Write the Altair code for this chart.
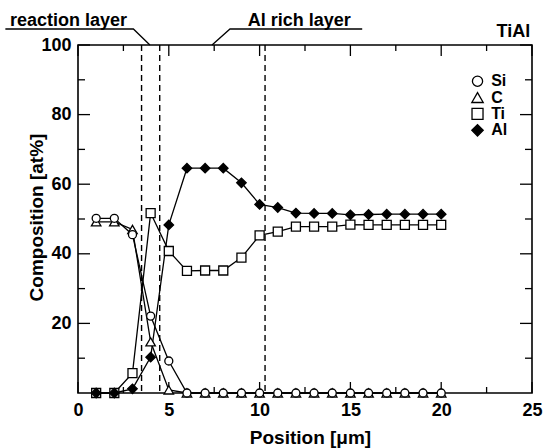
import altair as alt
import pandas as pd

# ---- data ----
positions = [1, 2, 3, 4, 5, 6, 7, 8, 9, 10, 11, 12, 13, 14, 15, 16, 17, 18, 19, 20]
si = [50.2, 50.2, 45.5, 22.1, 9.2, 0, 0, 0, 0, 0, 0, 0, 0, 0, 0, 0, 0, 0, 0, 0]
c = [49.2, 49.2, 47.0, 14.7, 0.9, 0, 0, 0, 0, 0, 0, 0, 0, 0, 0, 0, 0, 0, 0, 0]
ti = [0, 0, 5.7, 51.7, 40.8, 35.1, 35.2, 35.2, 38.9, 45.3, 46.4, 47.8, 47.8, 47.8, 48.4, 48.3, 48.3, 48.3, 48.3, 48.3]
al = [0, 0, 1.2, 10.3, 48.3, 64.6, 64.6, 64.6, 60.4, 54.2, 53.3, 51.7, 51.6, 51.6, 51.2, 51.3, 51.4, 51.4, 51.4, 51.4]

series_names = ["Si", "C", "Ti", "Al"]
series_values = {"Si": si, "C": c, "Ti": ti, "Al": al}
series_shapes = {"Si": "circle", "C": "triangle-up", "Ti": "square", "Al": "diamond"}
series_fill = {"Si": "white", "C": "white", "Ti": "white", "Al": "black"}
series_size = {"Si": 64, "C": 90, "Ti": 81, "Al": 90}
draw_order = ["C", "Si", "Ti", "Al"]

boundaries = [3.5, 4.5, 10.3]

x_labels = [0, 5, 10, 15, 20, 25]
x_minor = [2.5, 7.5, 12.5, 17.5, 22.5]
y_labels = [20, 40, 60, 80, 100]
y_minor = [10, 30, 50, 70, 90]

legend_x = [22.0, 22.0, 22.0, 22.0]
legend_y = [89.6, 84.9, 80.2, 75.5]
legend_text_x = 22.75

ann_text = ["reaction layer", "Al rich layer", "TiAl"]
ann_text_x = [-3.75, 9.35, 24.9]
ann_text_y = [105.6, 105.6, 102.2]
ann_text_align = ["left", "left", "right"]

# leader lines: group, order, x, y
lead_grp = ["r", "r", "r", "a", "a", "a"]
lead_ord = [0, 1, 2, 0, 1, 2]
lead_x = [-4.0, 3.05, 3.96, 15.65, 8.37, 7.38]
lead_y = [104.6, 104.6, 100, 104.6, 104.6, 100]

# ---- layout ----
W, H = 454, 348
FONT = "Liberation Sans"

xs = alt.Scale(domain=[0, 25], nice=False, zero=False)
ys = alt.Scale(domain=[0, 100], nice=False, zero=False)

X = alt.X(
    "x:Q", scale=xs, title="Position [μm]",
    axis=alt.Axis(values=x_labels, ticks=False, domain=False, grid=False,
                  labelPadding=8, labelFlush=False, format="d",
                  titleY=50, titleX=232, titleBaseline="alphabetic"),
)
Y = alt.Y(
    "y:Q", scale=ys, title="Composition [at%]",
    axis=alt.Axis(values=y_labels, ticks=False, domain=False, grid=False,
                  labelPadding=7, format="d",
                  titleX=-36, titleY=172, titleAngle=270,
                  titleBaseline="alphabetic", titleAlign="center"),
)

long_rows = []
for name in series_names:
    for p, v in zip(positions, series_values[name]):
        long_rows.append({"series": name, "x": p, "y": v})
df = pd.DataFrame(long_rows)

layers = []

# dashed boundaries
layers.append(
    alt.Chart(pd.DataFrame({"x": boundaries}))
    .mark_rule(color="black", strokeDash=[6, 4], strokeWidth=1.4)
    .encode(x=X)
)

# inward ticks
xt = pd.DataFrame({"x": x_labels})
xm = pd.DataFrame({"x": x_minor})
yt = pd.DataFrame({"y": y_labels})
ym = pd.DataFrame({"y": y_minor})
for d, ln in [(xt, 11), (xm, 6)]:
    layers.append(alt.Chart(d).mark_rule(color="black", strokeWidth=1.3)
                  .encode(x=X, y=alt.value(H), y2=alt.value(H - ln)))
    layers.append(alt.Chart(d).mark_rule(color="black", strokeWidth=1.3)
                  .encode(x=X, y=alt.value(0), y2=alt.value(ln)))
for d, ln in [(yt, 12), (ym, 7)]:
    layers.append(alt.Chart(d).mark_rule(color="black", strokeWidth=1.3)
                  .encode(y=Y, x=alt.value(0), x2=alt.value(ln)))
    layers.append(alt.Chart(d).mark_rule(color="black", strokeWidth=1.3)
                  .encode(y=Y, x=alt.value(W), x2=alt.value(W - ln)))

# lines
layers.append(
    alt.Chart(df).mark_line(color="black", strokeWidth=1.3)
    .encode(x=X, y=Y, detail="series:N")
)

# points
for name in draw_order:
    sub = df[df["series"] == name]
    layers.append(
        alt.Chart(sub).mark_point(
            shape=series_shapes[name], filled=True, fill=series_fill[name],
            stroke="black", strokeWidth=1.3, size=series_size[name], opacity=1,
        ).encode(x=X, y=Y)
    )

# manual legend
for i, name in enumerate(series_names):
    d = pd.DataFrame({"x": [legend_x[i]], "y": [legend_y[i]]})
    layers.append(
        alt.Chart(d).mark_point(
            shape=series_shapes[name], filled=True, fill=series_fill[name],
            stroke="black", strokeWidth=1.3, size=series_size[name] + 40, opacity=1,
        ).encode(x=X, y=Y)
    )
leg_df = pd.DataFrame({"x": [legend_text_x] * 4, "y": legend_y, "t": series_names})
layers.append(
    alt.Chart(leg_df).mark_text(align="left", baseline="middle", font=FONT,
                                fontWeight="bold", fontSize=16, color="black")
    .encode(x=X, y=Y, text="t:N")
)

# annotations
for i in range(len(ann_text)):
    d = pd.DataFrame({"x": [ann_text_x[i]], "y": [ann_text_y[i]], "t": [ann_text[i]]})
    layers.append(
        alt.Chart(d).mark_text(align=ann_text_align[i], baseline="alphabetic", font=FONT,
                               fontWeight="bold", fontSize=18, color="black")
        .encode(x=X, y=Y, text="t:N")
    )
lead_df = pd.DataFrame({"g": lead_grp, "o": lead_ord, "x": lead_x, "y": lead_y})
layers.append(
    alt.Chart(lead_df).mark_line(color="black", strokeWidth=1.3)
    .encode(x=X, y=Y, detail="g:N", order="o:Q")
)

chart = (
    alt.layer(*layers)
    .properties(width=W, height=H, autosize=alt.AutoSizeParams(type="none"),
                padding={"left": 78, "top": 45, "right": 13, "bottom": 55},
                background="white")
    .configure_view(stroke="black", strokeWidth=1.6)
    .configure_axis(labelFont=FONT, titleFont=FONT, labelFontSize=18, titleFontSize=19,
                    labelFontWeight="bold", titleFontWeight="bold",
                    labelColor="black", titleColor="black")
)

chart.save("out.html", embed_options={"renderer": "svg", "actions": False})
